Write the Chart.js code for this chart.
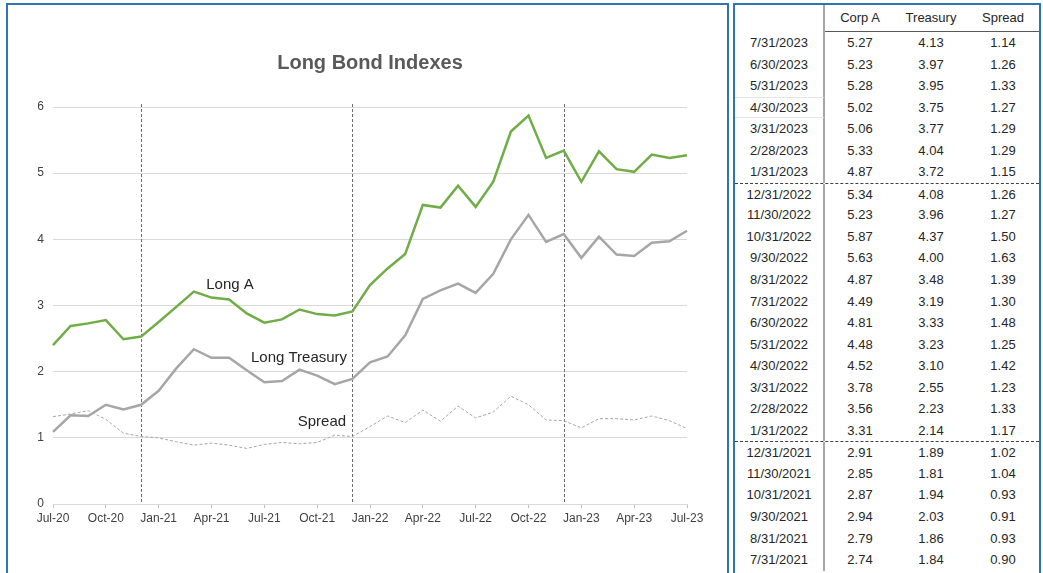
<!DOCTYPE html>
<html>
<head>
<meta charset="utf-8">
<title>Long Bond Indexes</title>
<script src="https://cdn.jsdelivr.net/npm/chart.js@4.4.1/dist/chart.umd.min.js"></script>
<style>
  html, body { margin: 0; padding: 0; background: #fff; width: 1043px; height: 573px; overflow: hidden; }
  body { font-family: "Liberation Sans", Arial, sans-serif; color: #262626; }
  #chart-box { position: absolute; left: 6px; top: 3px; width: 723px; height: 620px; border: 2px solid #2e75b6; box-sizing: border-box; }
  #chart-box canvas { position: absolute; left: 0; top: 0; }
  #table-box { position: absolute; left: 733px; top: 3px; width: 308px; height: 620px; border: 2px solid #2e75b6; box-sizing: border-box; overflow: hidden; }
  .row { display: flex; height: 21.55px; box-sizing: border-box; font-size: 13px; line-height: 21px; }
  .row.head { height: 27px; line-height: 26px; }
  .row.sep { border-top: 1px dashed #404040; }
  .row span { text-align: center; box-sizing: border-box; }
  .c0 { width: 90px; border-right: 2px solid #a6a6a6; }
  .c1 { width: 70px; }
  .c2 { width: 72px; }
  .c3 { width: 72px; }
  .head span.hd { border-bottom: 1px solid #595959; }
  .faint { border-top: 1px solid #e4e4e4; border-bottom: 1px solid #e4e4e4; line-height: 19px; }
</style>
</head>
<body>
<div id="chart-box"><canvas id="bonds" width="719" height="568"></canvas></div>
<div id="table-box"><div id="rates"></div></div>
<script>
// Monthly month-end yields, Jul-20 .. Jul-23
const months = ['Jul-20', 'Aug-20', 'Sep-20', 'Oct-20', 'Nov-20', 'Dec-20',
                'Jan-21', 'Feb-21', 'Mar-21', 'Apr-21', 'May-21', 'Jun-21',
                'Jul-21', 'Aug-21', 'Sep-21', 'Oct-21', 'Nov-21', 'Dec-21',
                'Jan-22', 'Feb-22', 'Mar-22', 'Apr-22', 'May-22', 'Jun-22',
                'Jul-22', 'Aug-22', 'Sep-22', 'Oct-22', 'Nov-22', 'Dec-22',
                'Jan-23', 'Feb-23', 'Mar-23', 'Apr-23', 'May-23', 'Jun-23', 'Jul-23'];

const longA = [2.40, 2.69, 2.73, 2.78, 2.49, 2.53, 2.75, 2.98, 3.21, 3.12, 3.09, 2.88,
               2.74, 2.79, 2.94, 2.87, 2.85, 2.91, 3.31, 3.56, 3.78, 4.52, 4.48, 4.81,
               4.49, 4.87, 5.63, 5.87, 5.23, 5.34, 4.87, 5.33, 5.06, 5.02, 5.28, 5.23, 5.27];

const longTreasury = [1.09, 1.34, 1.33, 1.50, 1.43, 1.50, 1.71, 2.05, 2.34, 2.21, 2.21, 2.02,
                      1.84, 1.86, 2.03, 1.94, 1.81, 1.89, 2.14, 2.23, 2.55, 3.10, 3.23, 3.33,
                      3.19, 3.48, 4.00, 4.37, 3.96, 4.08, 3.72, 4.04, 3.77, 3.75, 3.95, 3.97, 4.13];

const spread = [1.32, 1.36, 1.41, 1.28, 1.07, 1.02, 1.00, 0.94, 0.89, 0.92, 0.89, 0.84,
                0.90, 0.93, 0.91, 0.93, 1.04, 1.02, 1.17, 1.33, 1.23, 1.42, 1.25, 1.48,
                1.30, 1.39, 1.63, 1.50, 1.27, 1.26, 1.15, 1.29, 1.29, 1.27, 1.33, 1.26, 1.14];

// Axis ticks
const xTickLabels = ['Jul-20', 'Oct-20', 'Jan-21', 'Apr-21', 'Jul-21', 'Oct-21', 'Jan-22',
                     'Apr-22', 'Jul-22', 'Oct-22', 'Jan-23', 'Apr-23', 'Jul-23'];
const yTicks = [0, 1, 2, 3, 4, 5, 6];
const yearEnds = ['Dec-20', 'Dec-21', 'Dec-22'];

// Side table: newest first
const tableHeaders = ['Corp A', 'Treasury', 'Spread'];
const tableDates = ['7/31/2023', '6/30/2023', '5/31/2023', '4/30/2023', '3/31/2023', '2/28/2023', '1/31/2023',
                    '12/31/2022', '11/30/2022', '10/31/2022', '9/30/2022', '8/31/2022', '7/31/2022',
                    '6/30/2022', '5/31/2022', '4/30/2022', '3/31/2022', '2/28/2022', '1/31/2022',
                    '12/31/2021', '11/30/2021', '10/31/2021', '9/30/2021', '8/31/2021', '7/31/2021'];

// In-chart series names, placed in axis units (month index, yield)
const lineLabels = [
    { text: 'Long A', at: 10.05, value: 3.31 },
    { text: 'Long Treasury', at: 13.97, value: 2.21 },
    { text: 'Spread', at: 15.27, value: 1.24 }
];

const FONT = '"Liberation Sans", Arial, sans-serif';
Chart.defaults.font.family = FONT;

const overlayPlugin = {
    id: 'overlay',
    beforeDatasetsDraw(chart) {
        const { ctx, chartArea, scales: { x } } = chart;
        ctx.save();
        ctx.strokeStyle = '#6e6e6e';
        ctx.lineWidth = 1;
        ctx.setLineDash([3, 2]);
        yearEnds.forEach(m => {
            const px = Math.round(x.getPixelForValue(months.indexOf(m))) + 0.5;
            ctx.beginPath();
            ctx.moveTo(px, chartArea.top - 3);
            ctx.lineTo(px, chartArea.bottom);
            ctx.stroke();
        });
        ctx.restore();
    },
    afterDatasetsDraw(chart) {
        const { ctx, chartArea, scales: { x, y } } = chart;
        ctx.save();
        ctx.textAlign = 'center';
        ctx.textBaseline = 'middle';
        // title centred over the plot area
        ctx.fillStyle = '#595959';
        ctx.font = 'bold 20px ' + FONT;
        ctx.fillText('Long Bond Indexes', (chartArea.left + chartArea.right) / 2, chartArea.top - 44);
        // series names
        ctx.fillStyle = '#262626';
        ctx.font = '15px ' + FONT;
        lineLabels.forEach(l => {
            ctx.fillText(l.text, x.getPixelForValue(l.at), y.getPixelForValue(l.value));
        });
        ctx.restore();
    }
};

new Chart(document.getElementById('bonds').getContext('2d'), {
    type: 'line',
    data: {
        labels: months,
        datasets: [
            {
                label: 'Spread',
                data: spread,
                borderColor: '#a6a6a6',
                borderWidth: 1,
                borderDash: [3, 2],
                pointRadius: 0,
                tension: 0
            },
            {
                label: 'Long Treasury',
                data: longTreasury,
                borderColor: '#a6a6a6',
                borderWidth: 2.5,
                pointRadius: 0,
                tension: 0
            },
            {
                label: 'Long A',
                data: longA,
                borderColor: '#70ad47',
                borderWidth: 2.5,
                pointRadius: 0,
                tension: 0
            }
        ]
    },
    options: {
        responsive: false,
        animation: false,
        layout: { padding: { top: 102, right: 40, bottom: 0, left: 0 } },
        plugins: {
            legend: { display: false },
            title: { display: false },
            tooltip: { enabled: false }
        },
        scales: {
            x: {
                offset: false,
                grid: { drawOnChartArea: false, drawTicks: true, tickLength: 4, color: '#bfbfbf' },
                border: { color: '#d9d9d9' },
                ticks: {
                    autoSkip: false,
                    maxRotation: 0,
                    padding: 3,
                    color: '#404040',
                    font: { size: 12 },
                    callback: function (val) {
                        const lab = this.getLabelForValue(val);
                        return xTickLabels.includes(lab) ? lab : null;
                    }
                },
                afterFit: scale => { scale.height = 69; }
            },
            y: {
                min: yTicks[0],
                max: yTicks[yTicks.length - 1],
                grid: { color: '#d9d9d9', drawTicks: false },
                border: { display: false },
                ticks: { stepSize: 1, padding: 9, color: '#404040', font: { size: 12 } },
                afterFit: scale => { scale.width = 45; }
            }
        }
    },
    plugins: [overlayPlugin]
});

// Build the side table from the same series (latest month first)
function buildTable() {
    const box = document.getElementById('rates');
    let html = '<div class="row head"><span class="c0"></span>' +
        tableHeaders.map((h, i) => `<span class="c${i + 1} hd">${h}</span>`).join('') + '</div>';
    tableDates.forEach((d, r) => {
        const i = months.length - 1 - r;
        const sep = r > 0 && d.startsWith('12/') ? ' sep' : '';
        const faint = d === '4/30/2023' ? ' faint' : '';
        html += `<div class="row${sep}">
            <span class="c0${faint}">${d}</span>
            <span class="c1">${longA[i].toFixed(2)}</span>
            <span class="c2">${longTreasury[i].toFixed(2)}</span>
            <span class="c3">${spread[i].toFixed(2)}</span>
        </div>`;
    });
    box.innerHTML = html;
}
buildTable();
</script>
</body>
</html>
